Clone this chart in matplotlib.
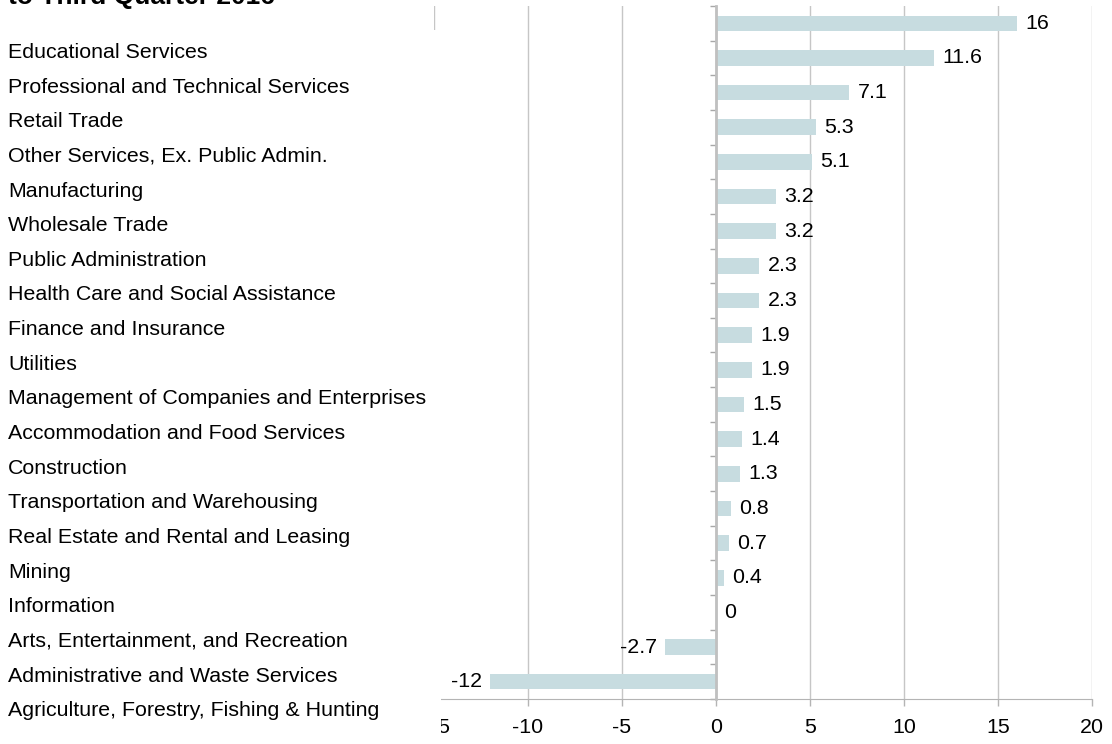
import matplotlib.pyplot as plt
from matplotlib.patches import Rectangle
from matplotlib.transforms import blended_transform_factory
import numpy as np

# Data
categories = ['Educational Services', 'Professional and Technical Services',
              'Retail Trade', 'Other Services, Ex. Public Admin.', 'Manufacturing',
              'Wholesale Trade', 'Public Administration',
              'Health Care and Social Assistance', 'Finance and Insurance',
              'Utilities', 'Management of Companies and Enterprises',
              'Accommodation and Food Services', 'Construction',
              'Transportation and Warehousing', 'Real Estate and Rental and Leasing',
              'Mining', 'Information', 'Arts, Entertainment, and Recreation',
              'Administrative and Waste Services',
              'Agriculture, Forestry, Fishing & Hunting']
values = [16, 11.6, 7.1, 5.3, 5.1, 3.2, 3.2, 2.3, 2.3, 1.9, 1.9, 1.5, 1.4, 1.3,
          0.8, 0.7, 0.4, 0, -2.7, -12]
x_ticks = [-15, -10, -5, 0, 5, 10, 15, 20]
title_text = 'to Third Quarter 2016'

BAR_COLOR = '#c7dce0'
GRID_COLOR = '#c6c6c6'
FONT = 'Liberation Sans'
FS = 15.4
W, H = 1112, 744

plt.rcParams['font.family'] = [FONT, 'DejaVu Sans']

fig = plt.figure(figsize=(W / 100, H / 100), dpi=100)
ax = fig.add_axes([434 / W, (H - 699) / H, (1092 - 434) / W, (699 - 6) / H])

y = np.arange(len(values))
bars = ax.barh(y, values, height=0.45, color=BAR_COLOR, zorder=2)
ax.bar_label(bars, labels=[f'{v:g}' for v in values], padding=6,
             fontsize=FS, color='black')

ax.set_xlim(x_ticks[0], x_ticks[-1])
ax.set_ylim(len(values) - 0.5, -0.5)
ax.set_xticks(x_ticks)
ax.set_xticklabels([str(t) for t in x_ticks], fontsize=FS)
ax.grid(axis='x', color=GRID_COLOR, linewidth=1, zorder=0)
ax.set_axisbelow(True)

# category boundary ticks on the zero line
ax.set_yticks(np.arange(-0.5, len(values)))
ax.set_yticklabels([])
ax.spines['left'].set_position(('data', 0))
ax.spines['left'].set_color('#c0c0c0')
ax.spines['left'].set_linewidth(2)
ax.spines['left'].set_zorder(3)
ax.spines['top'].set_visible(False)
ax.spines['right'].set_visible(False)
ax.spines['bottom'].set_color('#b4b4b4')
ax.tick_params(axis='y', length=4, color='#a8a8a8', width=1)
ax.tick_params(axis='x', length=5, color='#b4b4b4', width=1, pad=9)

# white panel that hides the left part of the plot behind the labels
panel = Rectangle((0, 0), 441 / W, (H - 30) / H, transform=fig.transFigure,
                  facecolor='white', edgecolor='none', zorder=5)
fig.add_artist(panel)

trans = blended_transform_factory(fig.transFigure, ax.transData)
for i, name in enumerate(categories):
    fig.text(8 / W, i + 0.84, name, transform=trans, fontsize=FS,
             va='center', ha='left', zorder=6)

# title is cropped at the top edge, as in the reference
fig.text(8 / W, 1 - 4 / H, title_text, fontsize=19, fontweight='bold',
         va='baseline', ha='left', zorder=6)

fig.savefig('out.png', dpi=100)
